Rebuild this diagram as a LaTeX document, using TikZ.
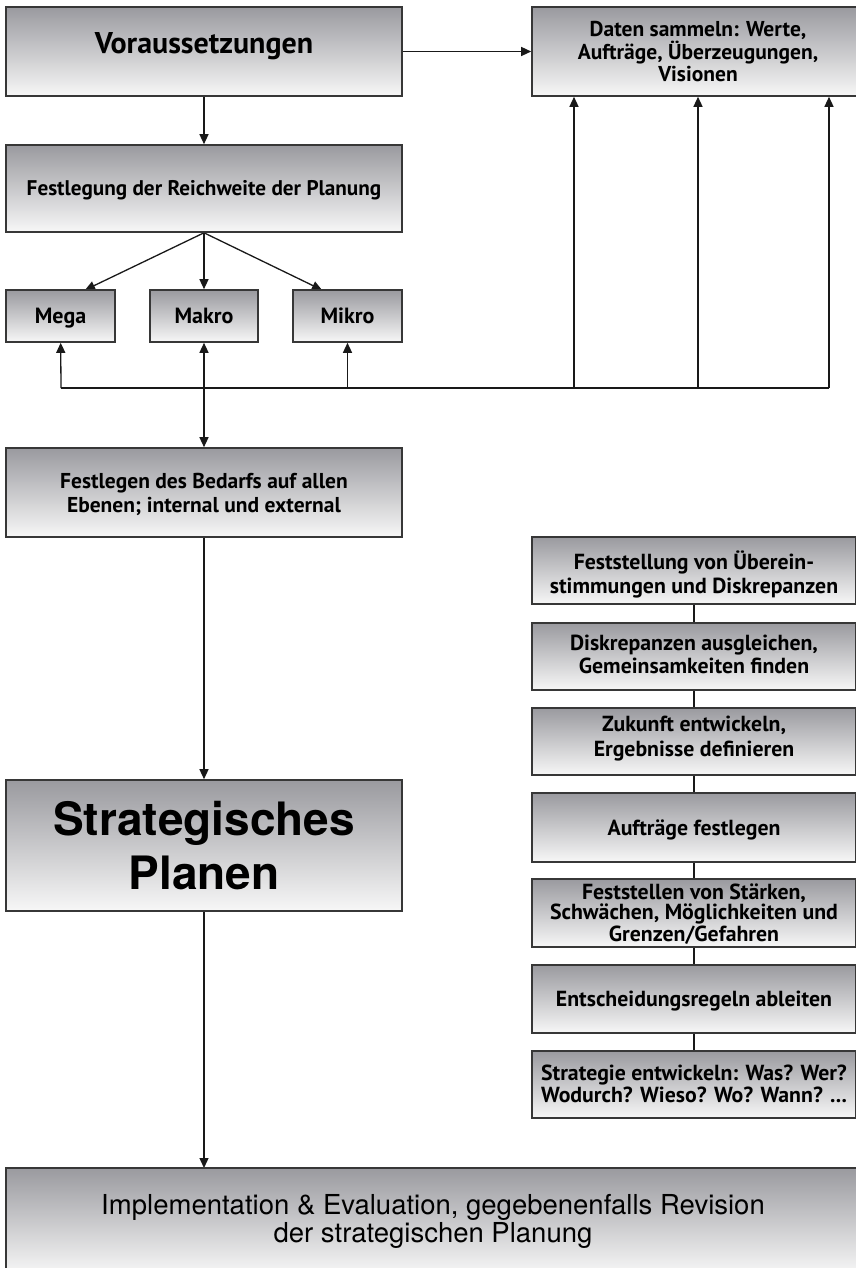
\documentclass[tikz,border=0pt]{standalone}
\usepackage{fontspec}
\setmainfont{PT Sans}
\newfontfamily\helvfont{TeX Gyre Heros}
\usepackage{tikz}
\usetikzlibrary{arrows.meta}
\pgfdeclarelayer{bg}
\pgfsetlayers{bg,main}
\definecolor{boxtop}{RGB}{154,154,159}
\definecolor{boxbot}{RGB}{247,247,247}
\definecolor{boxline}{RGB}{55,55,55}
\tikzset{
  stepbox/.style={draw=boxline, line width=1.6pt, rectangle, top color=boxtop,
    bottom color=boxbot, align=center, inner sep=0pt, font=\bfseries},
  textpos/.style 2 args={text height=#1, text depth=#2},
  link/.style={line width=1.3pt, draw=black!90},
  tip/.style={link, -{Triangle[length=10pt,width=9pt]}},
  tips/.style={link, {Triangle[length=10pt,width=9pt]}-{Triangle[length=10pt,width=9pt]}},
}
\begin{document}
\begin{tikzpicture}[x=1pt, y=-1pt]
        \useasboundingbox (0,0) rectangle (855,1268);
        % left column
        \node (pre) [stepbox, minimum width=396pt, minimum height=89pt, textpos={21pt}{16pt}, font=\bfseries\fontsize{30}{34}\selectfont] at (204, 51.5) {Voraussetzungen};
        \node (reich) [stepbox, minimum width=396pt, minimum height=87pt, textpos={15pt}{-5pt}, font=\bfseries\fontsize{21.2}{25}\selectfont] at (204, 188.5) {Festlegung der Reichweite der Planung};
        \node (mega) [stepbox, minimum width=109pt, minimum height=52pt, textpos={15pt}{0pt}, font=\bfseries\fontsize{22}{25}\selectfont] at (60.5, 316) {Mega};
        \node (makro) [stepbox, minimum width=108pt, minimum height=52pt, textpos={15pt}{0pt}, font=\bfseries\fontsize{22}{25}\selectfont] at (204, 316) {Makro};
        \node (mikro) [stepbox, minimum width=109pt, minimum height=52pt, textpos={15pt}{0pt}, font=\bfseries\fontsize{22}{25}\selectfont] at (347.5, 316) {Mikro};
        \node (bedarf) [stepbox, minimum width=396pt, minimum height=89pt, textpos={44pt}{5pt}, font=\bfseries\fontsize{21.5}{24}\selectfont] at (204, 492.5) {Festlegen des Bedarfs auf allen\\Ebenen; internal und external};
        \node (strat) [stepbox, minimum width=396pt, minimum height=131pt, font=\helvfont\bfseries\fontsize{46}{54}\selectfont] at (204, 845.5) {Strategisches\\Planen};
        \node (impl) [stepbox, minimum width=854pt, minimum height=106pt, font=\helvfont\mdseries\fontsize{27.5}{28}\selectfont] at (433, 1221) {Implementation \& Evaluation, gegebenenfalls Revision\\der strategischen Planung};
        % right column
        \node (daten) [stepbox, minimum width=332pt, minimum height=89pt, textpos={66pt}{5pt}, font=\bfseries\fontsize{21.5}{22.5}\selectfont] at (698, 51.5) {Daten sammeln: Werte,\\Aufträge, Überzeugungen,\\Visionen};
        \node (r1) [stepbox, minimum width=324pt, minimum height=67pt, textpos={50pt}{5pt}, font=\bfseries\fontsize{21.8}{24}\selectfont] at (694, 570.5) {Feststellung von Überein-\\stimmungen und Diskrepanzen};
        \node (r2) [stepbox, minimum width=324pt, minimum height=67pt, textpos={38pt}{5pt}, font=\bfseries\fontsize{21.8}{23}\selectfont] at (694, 656.5) {Diskrepanzen ausgleichen,\\Gemeinsamkeiten finden};
        \node (r3) [stepbox, minimum width=324pt, minimum height=67pt, textpos={35pt}{5pt}, font=\bfseries\fontsize{21.8}{25}\selectfont] at (694, 741.5) {Zukunft entwickeln,\\Ergebnisse definieren};
        \node (r4) [stepbox, minimum width=324pt, minimum height=69pt, textpos={15pt}{0pt}, font=\bfseries\fontsize{21.8}{25}\selectfont] at (694, 827.5) {Aufträge festlegen};
        \node (r5) [stepbox, minimum width=324pt, minimum height=68pt, textpos={61pt}{5pt}, font=\bfseries\fontsize{21.8}{20}\selectfont] at (694, 913) {Feststellen von Stärken,\\Schwächen, Möglichkeiten und\\Grenzen/Gefahren};
        \node (r6) [stepbox, minimum width=324pt, minimum height=68pt, textpos={15pt}{0pt}, font=\bfseries\fontsize{21.8}{25}\selectfont] at (694, 999) {Entscheidungsregeln ableiten};
        \node (r7) [stepbox, minimum width=324pt, minimum height=67pt, textpos={40pt}{5pt}, font=\bfseries\fontsize{21.8}{22}\selectfont] at (694, 1084.5) {Strategie entwickeln: Was? Wer?\\Wodurch? Wieso? Wo? Wann? ...};
        % bus and arrow ends
        \coordinate (megain) at (85, 290);
        \coordinate (mikroin) at (322, 290);
        \coordinate (implin) at (204, 1168);
        \coordinate (busL) at (61, 388);
        \coordinate (busR) at (829, 388);
        \coordinate (bus1) at (574, 388);
        \coordinate (bus2) at (698, 388);
        \begin{pgfonlayer}{bg}
                \draw (pre) edge [tip] (daten);
                \draw (pre) edge [tip] (reich);
                \draw (reich.south) edge [tip] (megain);
                \draw (reich) edge [tip] (makro);
                \draw (reich.south) edge [tip] (mikroin);
                \draw (busL) edge [link] (busR);
                \draw (busL) edge [tip] (mega);
                \draw (mikro.south |- busL) edge [tip] (mikro);
                \draw (bus1) edge [tip] (bus1 |- daten.south);
                \draw (bus2) edge [tip] (daten);
                \draw (busR) edge [tip] (busR |- daten.south);
                \draw (makro) edge [tips] (bedarf);
                \draw (bedarf) edge [tip] (strat);
                \draw (strat.south) edge [tip] (implin);
                \draw (r1) edge [link] (r2);
                \draw (r2) edge [link] (r3);
                \draw (r3) edge [link] (r4);
                \draw (r4) edge [link] (r5);
                \draw (r5) edge [link] (r6);
                \draw (r6) edge [link] (r7);
        \end{pgfonlayer}
\end{tikzpicture}
\end{document}
